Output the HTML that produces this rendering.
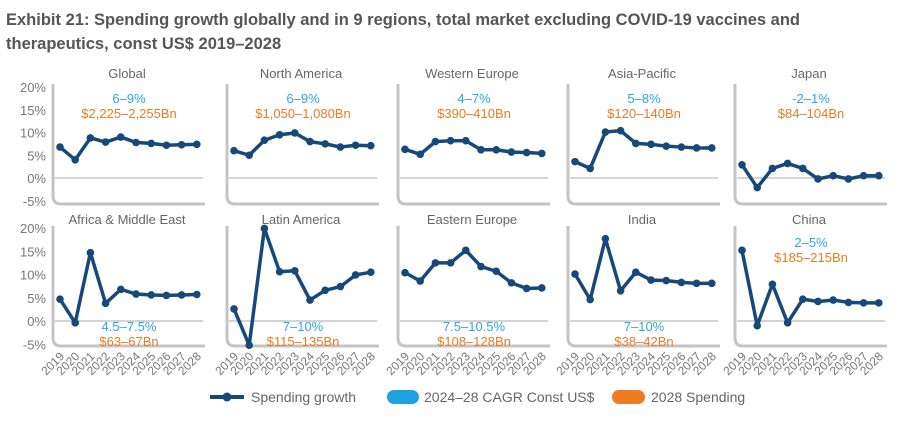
<!DOCTYPE html>
<html><head><meta charset="utf-8"><style>
body{margin:0;background:#fff;width:912px;height:416px;overflow:hidden;font-family:"Liberation Sans","DejaVu Sans",sans-serif}
</style></head><body>
<svg id="c" width="912" height="416" xmlns="http://www.w3.org/2000/svg">
<text x="6" y="25" font-size="16.5" font-weight="bold" fill="#555">Exhibit 21: Spending growth globally and in 9 regions, total market excluding COVID-19 vaccines and</text>
<text x="6" y="49" font-size="16.5" font-weight="bold" fill="#555">therapeutics, const US$ 2019–2028</text>
<g>
<line x1="210" y1="397" x2="244" y2="397" stroke="#16497a" stroke-width="4"/>
<circle cx="227" cy="397" r="4.5" fill="#16497a"/>
<text x="251" y="402" font-size="14" fill="#666">Spending growth</text>
<rect x="387" y="390" width="32" height="14" rx="7" fill="#1ea2dd"/>
<text x="424" y="402" font-size="14" fill="#666">2024–28 CAGR Const US$</text>
<rect x="612" y="390" width="33" height="14" rx="7" fill="#ef7b22"/>
<text x="651" y="402" font-size="14" fill="#666">2028 Spending</text>
</g>
</svg>
<script>
const years=["2019","2020","2021","2022","2023","2024","2025","2026","2027","2028"];
const yTicks=[20,15,10,5,0,-5];
const names=["Global","North America","Western Europe","Asia-Pacific","Japan","Africa & Middle East","Latin America","Eastern Europe","India","China"];
const cagr=["6–9%","6–9%","4–7%","5–8%","-2–1%","4.5–7.5%","7–10%","7.5–10.5%","7–10%","2–5%"];
const spend=["$2,225–2,255Bn","$1,050–1,080Bn","$390–410Bn","$120–140Bn","$84–104Bn","$63–67Bn","$115–135Bn","$108–128Bn","$38–42Bn","$185–215Bn"];
const sGlobal=[6.8,4,8.8,7.9,9,7.8,7.6,7.2,7.3,7.4];
const sNorthAmerica=[6,5,8.3,9.5,9.9,8,7.5,6.8,7.2,7.1];
const sWesternEurope=[6.3,5.2,8,8.2,8.2,6.2,6.2,5.7,5.6,5.4];
const sAsiaPacific=[3.6,2.1,10.1,10.4,7.6,7.4,7,6.8,6.6,6.6];
const sJapan=[2.9,-2.1,2.1,3.2,2.1,-0.2,0.5,-0.2,0.5,0.5];
const sAfrica=[4.7,-0.4,14.7,3.8,6.8,5.8,5.6,5.5,5.6,5.7];
const sLatam=[2.6,-5.2,19.9,10.6,10.8,4.5,6.6,7.4,9.9,10.5];
const sEasternEurope=[10.4,8.6,12.5,12.5,15.2,11.7,10.7,8.2,7,7.1];
const sIndia=[10.1,4.6,17.7,6.5,10.5,8.8,8.7,8.3,8.1,8.1];
const sChina=[15.2,-1,7.9,-0.4,4.7,4.2,4.5,4,3.9,3.9];
const series=[sGlobal,sNorthAmerica,sWesternEurope,sAsiaPacific,sJapan,sAfrica,sLatam,sEasternEurope,sIndia,sChina];
const NS="http://www.w3.org/2000/svg",svg=document.getElementById('c');
function mk(t,a,p){const e=document.createElementNS(NS,t);for(const k in a)e.setAttribute(k,a[k]);(p||svg).appendChild(e);return e;}
const axX=[53,227,398,568,735];
for(let i=0;i<10;i++){
  const row=i<5?0:1,col=i%5,ax=axX[col];
  const zeroY=row?321:178,ppu=row?4.65:4.55,bottom=row?346:204,top=row?226:84;
  const y=v=>zeroY-v*ppu, x=j=>ax+7+j*15.2;
  const g=mk('g',{});
  
  
  const t=mk('text',{x:ax+74,y:row?224:78,'font-size':13,fill:'#666','text-anchor':'middle'},g);t.textContent=names[i];
  
  
  mk('path',{d:`M${ax} ${top} V${bottom-8} Q${ax} ${bottom} ${ax+8} ${bottom} H${ax+152}`,fill:'none',stroke:'#c4c4c4','stroke-width':3},g);
  const zl=mk('line',{x1:ax+2,x2:ax+150,y1:y(0),y2:y(0),stroke:'#aaa','stroke-width':1},g);
  
  
  if(col===0){yTicks.forEach(v=>{const tt=mk('text',{x:46,y:y(v)+5,'font-size':13,fill:'#777','text-anchor':'end'},g);tt.textContent=v+'%';
    
    });}
  if(row){years.forEach((yr,j)=>{const tt=mk('text',{x:x(j)+5,y:357,'font-size':12,fill:'#777','text-anchor':'end',transform:`rotate(-45 ${x(j)+5} 357)`},g);tt.textContent=yr;
    
    });}
  const s=series[i];
  const pl=mk('polyline',{points:s.map((v,j)=>x(j)+','+y(v)).join(' '),fill:'none',stroke:'#16497a','stroke-width':3.5,'stroke-linejoin':'round'},g);
  
  
  s.forEach((v,j)=>{const c=mk('circle',{cx:x(j),cy:y(v),r:3.8,fill:'#16497a'},g);
    
    });
  let ay;
  if(row===0) ay=103; else if(i===9) ay=247; else ay=331;
  const a1=mk('text',{x:ax+76,y:ay,'font-size':13,fill:'#2ea6dc','text-anchor':'middle'},g);a1.textContent=cagr[i];
  
  
  const a2=mk('text',{x:ax+76,y:ay+15,'font-size':13,fill:'#ec7a23','text-anchor':'middle'},g);a2.textContent=spend[i];
  
  
}
</script>
</body></html>
